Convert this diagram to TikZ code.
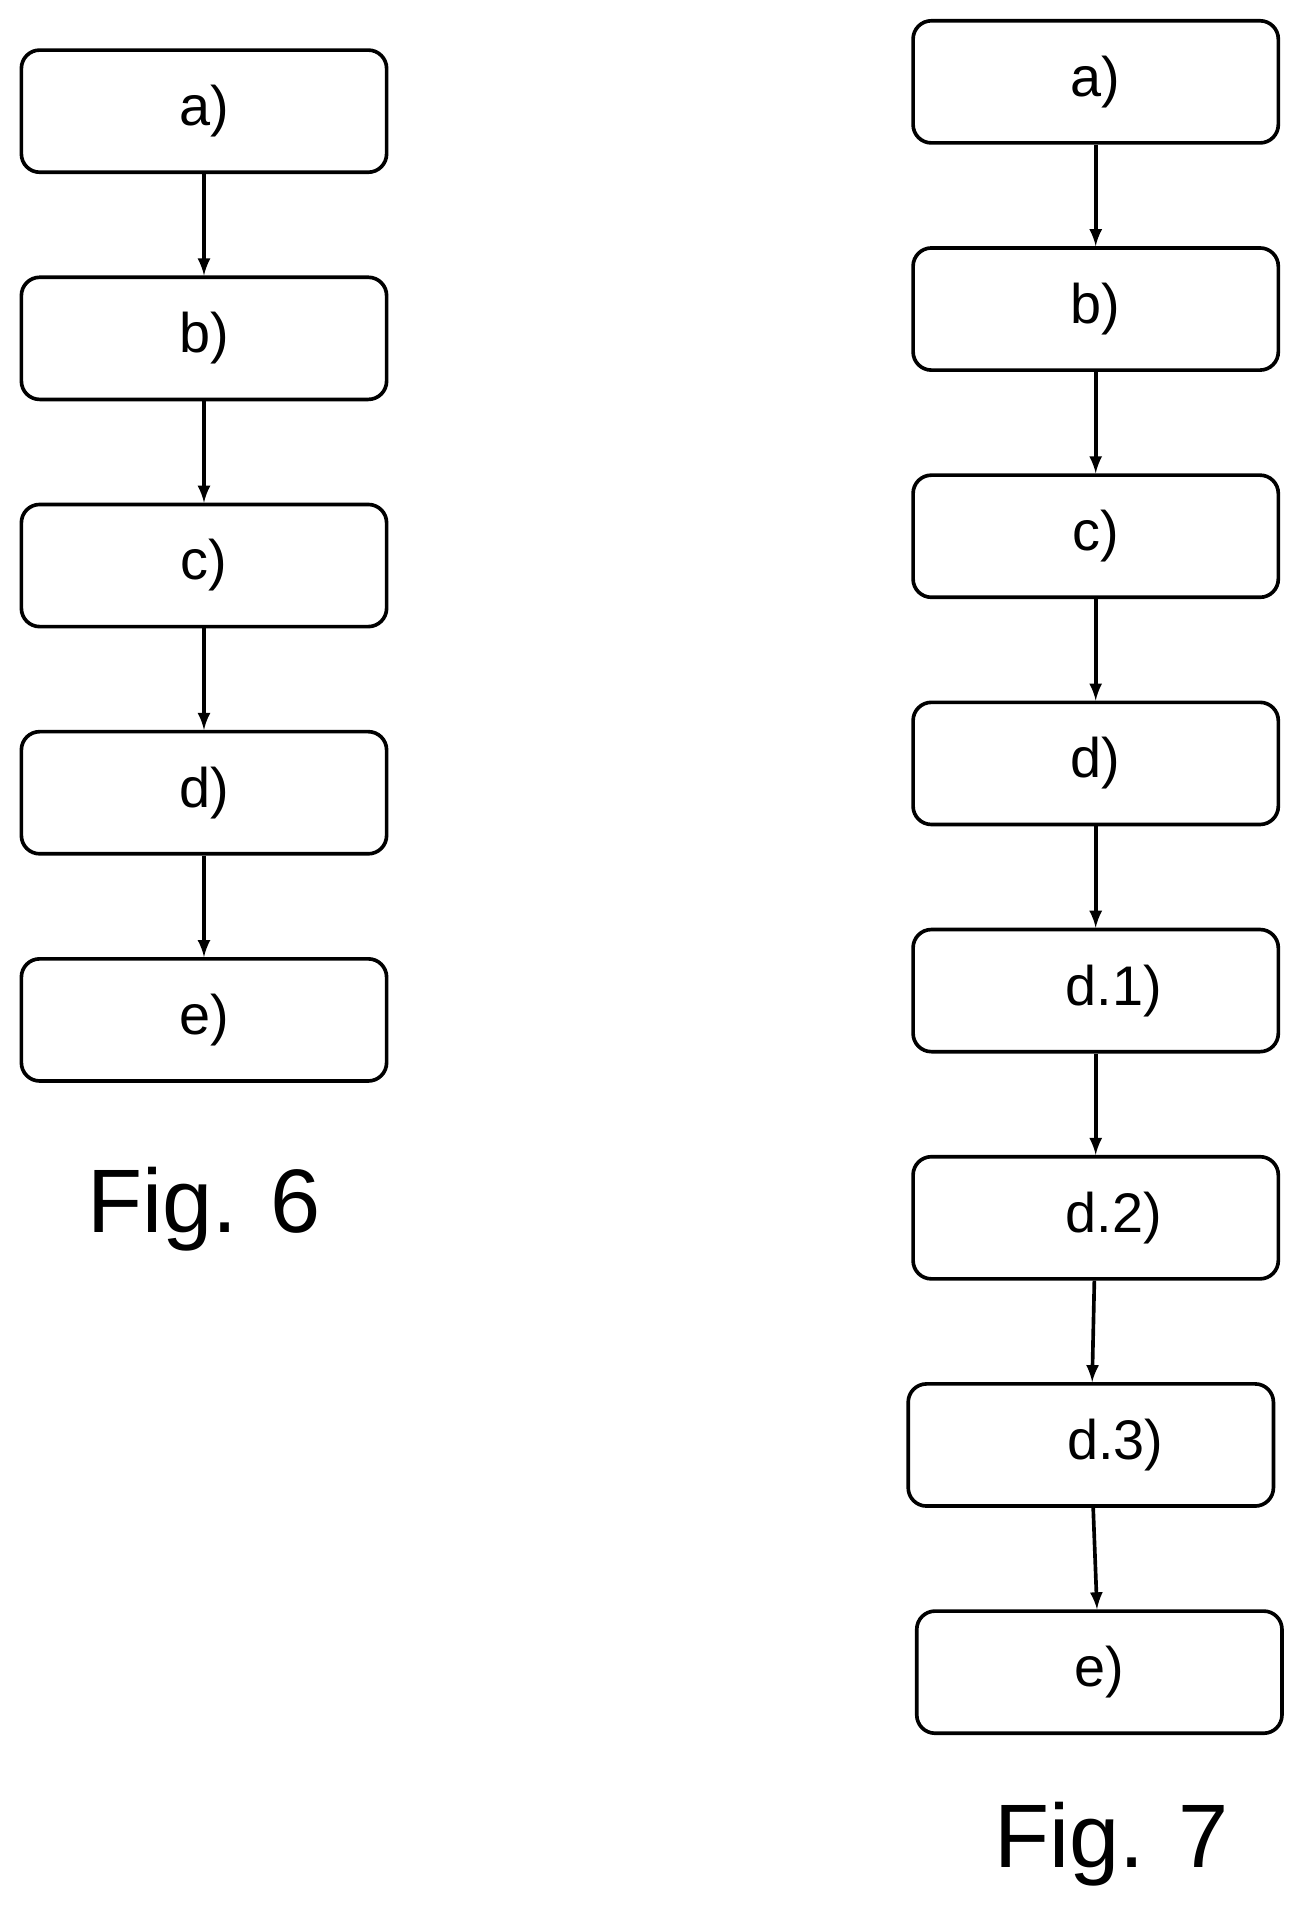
\documentclass[tikz,border=0pt]{standalone}
\usepackage{fontspec}
\setmainfont{Liberation Sans}
\usetikzlibrary{arrows,positioning}
\tikzset{
    stage/.style={draw, line width=1.7pt, rounded corners=0.3cm, minimum width=5.98cm, minimum height=2cm, inner sep=0pt, font=\fontsize{26}{30}\selectfont},
    flow/.style={-latex, line width=1.7pt}}

\begin{document}
\begin{tikzpicture}
    \useasboundingbox (0,0) rectangle (21.5,-31.6);
    % Fig. 6
    \node[stage] (l-a) at (3.34,-1.82) {a)};
    \node[stage, below=1.66cm of l-a] (l-b) {b)};
    \node[stage, below=1.66cm of l-b] (l-c) {c)};
    \node[stage, below=1.66cm of l-c] (l-d) {d)};
    \node[stage, below=1.66cm of l-d] (l-e) {e)};
    \node[font=\fontsize{42}{48}\selectfont] (fig6) at (3.34,-19.8) {Fig. 6};
    \path[flow]
    (l-a) edge (l-b)
    (l-b) edge (l-c)
    (l-c) edge (l-d)
    (l-d) edge (l-e);
    % Fig. 7
    \node[stage] (r-a) at (17.94,-1.34) {a)};
    \node[stage, below=1.66cm of r-a] (r-b) {b)};
    \node[stage, below=1.66cm of r-b] (r-c) {c)};
    \node[stage, below=1.66cm of r-c] (r-d) {d)};
    \node[stage, below=1.66cm of r-d] (r-d1) {\hspace{0.6cm}d.1)};
    \node[stage, below=1.66cm of r-d1] (r-d2) {\hspace{0.6cm}d.2)};
    \node[stage, below=1.66cm of r-d2, xshift=-0.08cm] (r-d3) {\hspace{0.8cm}d.3)};
    \node[stage, below=1.66cm of r-d3, xshift=0.14cm] (r-e) {e)};
    \node[font=\fontsize{42}{48}\selectfont] (fig7) at (18.2,-30.2) {Fig. 7};
    \path[flow]
    (r-a) edge (r-b)
    (r-b) edge (r-c)
    (r-c) edge (r-d)
    (r-d) edge (r-d1)
    (r-d1) edge (r-d2)
    (r-d2) edge (r-d3)
    (r-d3) edge (r-e);
\end{tikzpicture}
\end{document}
